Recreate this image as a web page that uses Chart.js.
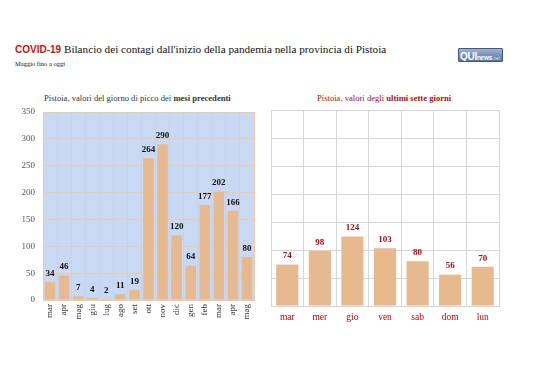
<!DOCTYPE html>
<html><head><meta charset="utf-8">
<script src="https://cdn.jsdelivr.net/npm/chart.js@4.4.0/dist/chart.umd.min.js"></script>
<style>
html,body{margin:0;padding:0;background:#fff;}
body{width:538px;height:380px;position:relative;overflow:hidden;}
canvas{position:absolute;left:0;top:0;}
#title{position:absolute;left:15px;top:43px;white-space:nowrap;font-family:"Liberation Serif",serif;font-size:11.2px;color:#111;}
#title b{font-family:"Liberation Sans",sans-serif;font-weight:700;color:#c0151b;font-size:10px;}
#sub{position:absolute;left:15px;top:60px;font-family:"Liberation Serif",serif;font-size:6.5px;color:#111;}
#logo{position:absolute;left:458px;top:48px;width:45px;height:14px;background:linear-gradient(#9fb3d2,#5573a0);border:1px solid #3d5a86;border-radius:1px;font-family:"Liberation Sans",sans-serif;color:#fff;line-height:12px;padding-left:1px;box-sizing:border-box;white-space:nowrap;overflow:hidden;letter-spacing:-0.3px;}
#logo b{font-size:10px;}
#logo span{font-size:6.5px;font-weight:700;}
#logo i{font-size:5.5px;font-style:normal;color:#d5deec;}
.ct{position:absolute;top:93px;font-family:"Liberation Serif",serif;font-size:8.6px;white-space:nowrap;}
</style></head>
<body>
<div id="title"><b>COVID-19</b> Bilancio dei contagi dall'inizio della pandemia nella provincia di Pistoia</div>
<div id="sub">Maggio fino a oggi</div>
<div id="logo"><b>QUI</b><span>news</span><i>.net</i></div>
<div class="ct" style="left:44px;color:#333;">Pistoia, valori del giorno di picco dei <b>mesi precedenti</b></div>
<div class="ct" style="left:317px;color:#a50f15;">Pistoia, valori degli <b>ultimi sette giorni</b></div>
<canvas id="c1" width="538" height="380"></canvas>
<canvas id="c2" width="538" height="380"></canvas>
<script>
const monthLabels = ['mar','apr','mag','giu','lug','ago','set','ott','nov','dic','gen','feb','mar','apr','mag'];
const monthValues = [34,46,7,4,2,11,19,264,290,120,64,177,202,166,80];
const dayLabels = ['mar','mer','gio','ven','sab','dom','lun'];
const dayValues = [74,98,124,103,80,56,70];
const yTicks = [0,50,100,150,200,250,300,350];

const barColor = '#e6b98f';
const serif = '"Liberation Serif", serif';

function labelPlugin(color){
  return {
    id:'vals',
    afterDatasetsDraw(chart){
      const ctx = chart.ctx;
      const meta = chart.getDatasetMeta(0);
      ctx.save();
      ctx.fillStyle = color;
      ctx.font = 'bold 9px ' + serif;
      ctx.textAlign = 'center';
      ctx.textBaseline = 'bottom';
      meta.data.forEach((el,i)=>{
        ctx.fillText(String(chart.data.datasets[0].data[i]), el.x, el.y - 4);
      });
      ctx.restore();
    }
  };
}
const bgPlugin = {
  id:'bg',
  beforeDraw(chart, args, opts){
    if(!opts.color) return;
    const a = chart.chartArea;
    chart.ctx.save();
    chart.ctx.fillStyle = opts.color;
    chart.ctx.fillRect(a.left, a.top, a.right-a.left, a.bottom-a.top);
    chart.ctx.restore();
  }
};

new Chart(document.getElementById('c1'), {
  type:'bar',
  data:{labels:monthLabels, datasets:[{data:monthValues, backgroundColor:barColor, barPercentage:0.75, categoryPercentage:1}]},
  options:{
    responsive:false, animation:false,
    layout:{padding:{left:18, right:284, top:112, bottom:50}},
    plugins:{legend:{display:false}, tooltip:{enabled:false}, bg:{color:'#c9d9f3'}},
    scales:{
      x:{
        afterFit(s){ s.height = 30; },
        grid:{color:'#f1c9a5', drawTicks:false, offset:true},
        border:{color:'#f1c9a5'},
        ticks:{font:{family:serif, size:9}, color:'#333', minRotation:90, maxRotation:90, padding:4, autoSkip:false}
      },
      y:{
        min:0, max:350,
        afterFit(s){ s.width = 25; },
        afterBuildTicks(s){ s.ticks = yTicks.map(v=>({value:v})); },
        grid:{color:'#f1c9a5', drawTicks:false},
        border:{display:false},
        ticks:{font:{family:serif, size:9}, color:'#555', padding:8}
      }
    }
  },
  plugins:[bgPlugin, labelPlugin('#111')]
});

new Chart(document.getElementById('c2'), {
  type:'bar',
  data:{labels:dayLabels, datasets:[{data:dayValues, backgroundColor:barColor, barPercentage:0.68, categoryPercentage:1}]},
  options:{
    responsive:false, animation:false,
    layout:{padding:{left:271, right:39, top:110, bottom:54}},
    plugins:{legend:{display:false}, tooltip:{enabled:false}},
    scales:{
      x:{
        afterFit(s){ s.height = 20; },
        grid:{color:'#d6d6d6', drawTicks:false, offset:true},
        border:{color:'#d6d6d6'},
        ticks:{font:{family:serif, size:9.5}, color:'#a50f15', padding:6, maxRotation:0, autoSkip:false}
      },
      y:{
        min:0, max:350,
        afterFit(s){ s.width = 0; },
        afterBuildTicks(s){ s.ticks = yTicks.map(v=>({value:v})); },
        grid:{color:'#d6d6d6', drawTicks:false},
        border:{color:'#d6d6d6'},
        ticks:{display:false}
      }
    }
  },
  plugins:[labelPlugin('#a50f15')]
});
</script>
</body></html>
